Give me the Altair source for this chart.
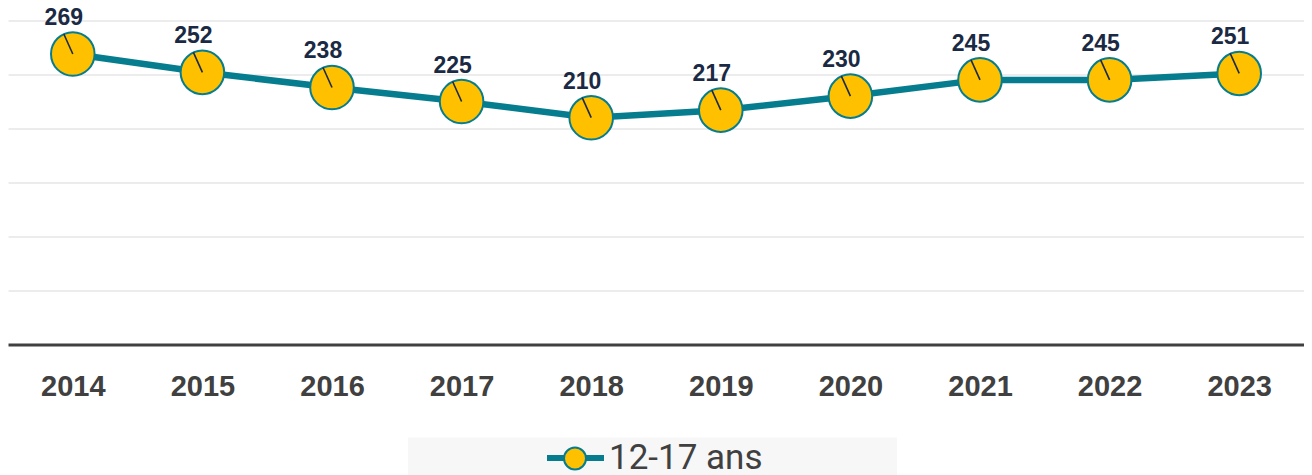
import altair as alt
import pandas as pd

years = ["2014", "2015", "2016", "2017", "2018", "2019", "2020", "2021", "2022", "2023"]
values = [269, 252, 238, 225, 210, 217, 230, 245, 245, 251]
series_name = "12-17 ans"
grid_values = [50, 100, 150, 200, 250, 300]

TEAL = "#067d8e"
YELLOW = "#ffc000"
NAVY = "#1b2a44"
GREY = "#404040"

df = pd.DataFrame({"year": years, "value": values,
                   "series": [series_name] * len(years),
                   "pt": [series_name] * len(years)})

x_enc = alt.X("year:O", scale=alt.Scale(type="point", padding=0.5),
              axis=alt.Axis(title=None, labelAngle=0, ticks=False, tickSize=0,
                            domain=True, domainColor=GREY, domainWidth=3,
                            labelFont="Liberation Sans", labelFontWeight="bold",
                            labelFontSize=29, labelColor=GREY,
                            labelBaseline="alphabetic", labelPadding=51, grid=False))
y_enc = alt.Y("value:Q", scale=alt.Scale(domain=[0, 300], nice=False, zero=True),
              axis=alt.Axis(title=None, labels=False, ticks=False, tickSize=0, domain=False,
                            grid=True, gridColor="#d9d9d9", gridWidth=1.2,
                            values=grid_values))

base = alt.Chart(df)

bg = alt.Chart(pd.DataFrame({"k": [1]})).mark_rect(color="#f7f7f7").encode(
    x=alt.value(400), x2=alt.value(889), y=alt.value(417), y2=alt.value(480))

line = base.mark_line(strokeWidth=6.5).encode(
    x=x_enc, y=y_enc,
    color=alt.Color("series:N", scale=alt.Scale(range=[TEAL]),
                    legend=alt.Legend(title=None, orient="none", legendX=536, legendY=406,
                                      symbolType="M-1,0L-0.3,0M0.3,0L1,0", symbolSize=3249,
                                      symbolStrokeWidth=6, labelFont="Roboto",
                                      labelFontSize=35, labelColor=GREY, labelOffset=2,
                                      padding=0, zindex=2)))

points = base.mark_point(filled=True, shape="circle", size=1900, stroke=TEAL,
                         strokeWidth=2, opacity=1).encode(
    x=x_enc, y=y_enc,
    fill=alt.Fill("pt:N", scale=alt.Scale(range=[YELLOW]),
                  legend=alt.Legend(title=None, orient="none", legendX=555, legendY=426,
                                    symbolType="circle", symbolSize=484,
                                    symbolStrokeColor=TEAL, symbolStrokeWidth=2,
                                    labelOpacity=0, labelFontSize=1, padding=0, zindex=3)))

leaders = base.mark_rule(color=NAVY, strokeWidth=1.6, x2Offset=-9, y2Offset=-20).encode(
    x=x_enc, y=y_enc, x2="year:O", y2="value:Q")

labels = base.mark_text(font="Liberation Sans", fontWeight="bold", fontSize=23,
                        color=NAVY, dx=-9, dy=-29, baseline="alphabetic",
                        align="center").encode(
    x=x_enc, y=y_enc, text=alt.Text("value:Q"))

chart = alt.layer(bg, line, points, leaders, labels).properties(
    width=1296, height=324,
    autosize=alt.AutoSizeParams(type="none"),
    padding={"left": 0, "top": 12.5, "right": 0, "bottom": 130.5},
).configure_view(stroke=None).resolve_scale(color="independent", fill="independent")

chart.save("out.html", embed_options={"renderer": "svg", "actions": False})
